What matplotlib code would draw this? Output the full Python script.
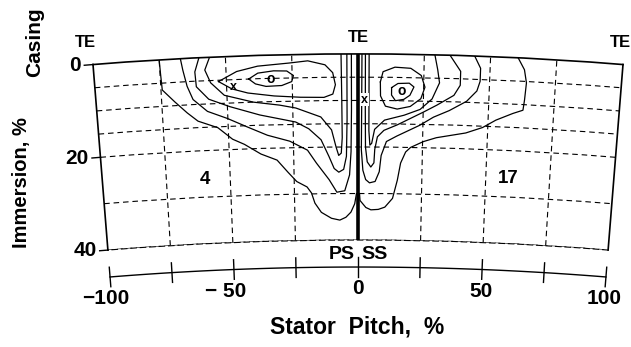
import numpy as np
import matplotlib
matplotlib.use('Agg')
import matplotlib.pyplot as plt

# sector geometry: half opening angle (deg) and radial origin (in immersion %)
SECTOR_DEG = 4.59
R_ORIGIN = 711.7

# axes ticks / grid
pitch_ticks = [-100, -75, -50, -25, 0, 25, 50, 75, 100]
pitch_labels = {-100: '\u2212100', -50: '\u2212 50', 0: '0', 50: '50', 100: '100'}
imm_labels = [0, 20, 40]
pitch_grid = [-75, -50, -25, 25, 50, 75]
imm_grid = [5, 10, 15, 20, 30, 40]

# contour lines on the pressure side, (pitch %, immersion %)
ps1 = [(-75, 0), (-74.8, 3), (-74.5, 6.5), (-70, 9.2), (-65.5, 11.7), (-61.5, 13.6),
       (-54, 15.2), (-48.5, 17.8), (-44, 19), (-37.7, 21.2), (-31.5, 22.6), (-27.3, 25.3),
       (-24, 27.3), (-20, 28.5), (-18.3, 29.8), (-17, 32), (-14.5, 34), (-10.5, 35.3),
       (-7.2, 35.7), (-4.8, 35.1), (-2.8, 34), (-1.3, 32.2), (-0.6, 30)]
ps2 = [(-67, 0), (-66.3, 2.5), (-65, 6), (-63, 8.9), (-57.7, 11.6), (-50.2, 13.3),
       (-42.6, 15.3), (-35, 17.2), (-26.4, 18.6), (-19.6, 20.6), (-16.2, 23.4), (-11.3, 27),
       (-8.3, 29.7), (-5.2, 29.4), (-3.3, 26), (-2.7, 21), (-2.5, 12), (-2.5, 0)]
ps3 = [(-60, 0), (-61.8, 3), (-61.5, 6.2), (-57, 9), (-49, 10.8), (-37.7, 12.8),
       (-24, 14.5), (-19, 16), (-14.3, 18.4), (-11.3, 22), (-9.3, 24.6), (-7.5, 25.4),
       (-5.6, 24.8), (-4.5, 22), (-4.2, 14), (-4.2, 0)]
ps4 = [(-56, 0), (-58, 2.7), (-56, 5.5), (-51, 8.3), (-40, 10), (-30, 10.8), (-23.8, 11.5),
       (-14.3, 13.5), (-10.2, 16.3), (-8.5, 20), (-7.5, 21.8), (-6.5, 21.3), (-6.1, 18),
       (-6.2, 10), (-6.4, 0)]
ps5 = [(-53, 5.3), (-46, 3.3), (-38, 2.3), (-26, 1.8), (-19, 1.4), (-12.5, 2.3),
       (-9.6, 4), (-8.6, 6.6), (-9.6, 8.6), (-13, 9.3), (-22, 9.2), (-32, 8.8),
       (-42, 8), (-48, 7), (-53, 5.3)]
ps6 = [(-41.5, 5), (-38, 3.8), (-32, 3.4), (-27, 3.5), (-24.5, 4.5), (-25.2, 5.8),
       (-29, 6.6), (-35, 6.7), (-39, 6.1), (-41.5, 5)]

# contour lines on the suction side
ss1 = [(0.6, 30), (0.8, 31.5), (3.1, 33), (5.1, 33.5), (8, 33.4), (10.6, 32.9),
       (13.6, 31), (15.4, 27.1), (16.6, 23.4), (18.5, 21), (20.4, 20), (25.3, 18.7),
       (30.3, 17.8), (41.6, 16.6), (48, 15.3), (53, 13.6), (59.4, 12), (63.2, 11.2),
       (63.6, 9), (64, 5.3), (63, 2.5), (60.4, 0)]
ss2 = [(1.5, 0), (1.4, 12), (1.3, 20.6), (1.9, 25), (3, 27), (4.5, 27.7), (6.7, 27.4),
       (8.3, 25.3), (9, 21.8), (11, 18.8), (15, 17.6), (23.8, 15.2), (29, 13.4),
       (35, 11.9), (41.5, 9.8), (45.3, 7.5), (46.4, 5.4), (46.4, 2.6), (44, 0)]
ss3 = [(2.8, 0), (2.8, 12), (2.9, 20), (3.6, 23.2), (5, 24.3), (6.2, 23.4), (6.5, 20.5),
       (7.5, 17.8), (10, 16.4), (15.1, 15.2), (25.3, 12.3), (30.2, 10.8), (36.6, 8.6),
       (38.9, 6.4), (38.9, 3.4), (34.7, 0)]
ss4 = [(4.2, 0), (4.2, 10), (4.2, 16.5), (4.6, 19.6), (5.3, 19.2), (6.4, 16.2),
       (10.2, 14.2), (17.7, 13.1), (23.8, 11.8), (28.3, 9.5), (31, 6), (30.2, 3.2), (29, 0)]
ss5 = [(8.5, 6), (9.5, 3.8), (14, 2.8), (20, 3), (24, 4.5), (25.5, 7), (24, 9.5),
       (20, 11.2), (15, 11.8), (10.5, 11.2), (8.6, 9), (8.5, 6)]
ss6 = [(12.8, 7.2), (15.2, 6.3), (19.5, 6.2), (21.3, 7), (19.8, 8.8), (17.5, 9.7),
       (14.3, 10), (12.8, 8.8), (12.8, 7.2)]

contours = [ps1, ps2, ps3, ps4, ps5, ps6, ss1, ss2, ss3, ss4, ss5, ss6]


def th(p):
    return np.deg2rad(np.asarray(p, dtype=float) * SECTOR_DEG / 100)


plt.rcParams['font.family'] = ['Liberation Sans', 'DejaVu Sans']
plt.rcParams['font.weight'] = 'bold'

W, H = 631, 347
dash = (0, (5, 3.5))
fig = plt.figure(figsize=(W / 100, H / 100), dpi=100)
ax = fig.add_axes([93 / W, -70 / H, 530 / W, 530 / H], projection='polar')
ax.set_theta_zero_location('N')
ax.set_theta_direction(-1)
ax.set_thetamin(-SECTOR_DEG)
ax.set_thetamax(SECTOR_DEG)
ax.set_ylim(40, 0)
ax.set_rorigin(R_ORIGIN)

ax.set_xticks(th(pitch_grid))
ax.set_yticks(imm_grid)
ax.set_xticklabels([])
ax.set_yticklabels([])
ax.tick_params(length=0)
ax.grid(True, color='black', linestyle=dash, linewidth=0.8)
ax.spines['inner'].set_linestyle(dash)
ax.spines['inner'].set_linewidth(0.8)
for s in ('polar', 'start', 'end'):
    ax.spines[s].set_linewidth(1.2)
    ax.spines[s].set_color('black')

for line in contours:
    p, i = np.array(line).T
    ax.plot(th(p), i, color='black', lw=0.9)

# blade trailing edge
ax.plot(th([0, 0]), [0, 40], color='black', lw=2.6, solid_capstyle='butt')

# pitch axis below the sector; negative labels keep the digits centred on the tick
arc = np.linspace(-100, 100, 81)
ax.plot(th(arc), np.full_like(arc, 45.8), color='black', lw=1.0, clip_on=False)
for p in pitch_ticks:
    ax.plot(th([p, p]), [43.7, 47.9], color='black', lw=1.0, clip_on=False)
    if p in pitch_labels:
        shift = {-100: -6, -50: -9}.get(p, 0)
        ax.annotate(pitch_labels[p], xy=(th(p), 50.5), xytext=(shift, 0),
                    textcoords='offset pixels', ha='center', va='center', fontsize=15,
                    annotation_clip=False)

# immersion ticks on the left edge
for v in imm_labels:
    ax.plot(th([-100, -103.3]), [v, v], color='black', lw=1.0, clip_on=False)
    ax.text(th(-104.5), v, str(v), ha='right', va='center', fontsize=15)

ax.text(th(-102), -4.9, 'TE', ha='center', va='center', fontsize=12)
ax.text(th(0), -3.5, 'TE', ha='center', va='center', fontsize=12)
ax.text(th(98.5), -4.7, 'TE', ha='center', va='center', fontsize=12)
ax.text(th(-1.5), 43.2, 'PS', ha='right', va='center', fontsize=14)
ax.text(th(1.5), 43.2, 'SS', ha='left', va='center', fontsize=14)
ax.text(th(-60), 26.3, '4', ha='center', va='center', fontsize=13.5)
ax.text(th(59), 26, '17', ha='center', va='center', fontsize=13.5)

ax.text(th(-33), 5.1, 'o', ha='center', va='center', fontsize=10)
ax.text(th(16.6), 8, 'o', ha='center', va='center', fontsize=10)
ax.text(th(-47.5), 6.5, 'x', ha='center', va='center', fontsize=9)
ax.text(th(2.6), 9.8, 'x', ha='center', va='center', fontsize=9,
        bbox=dict(facecolor='white', edgecolor='none', pad=0.3))

fig.text(35 / W, 1 - 42 / H, 'Casing', rotation=90, ha='center', va='center', fontsize=15)
fig.text(22 / W, 1 - 183 / H, 'Immersion, %', rotation=90, ha='center', va='center', fontsize=14.5)
fig.text(357 / W, 1 - 327 / H, 'Stator  Pitch,  %', ha='center', va='center', fontsize=16.5)

fig.savefig('out.png', dpi=100)
